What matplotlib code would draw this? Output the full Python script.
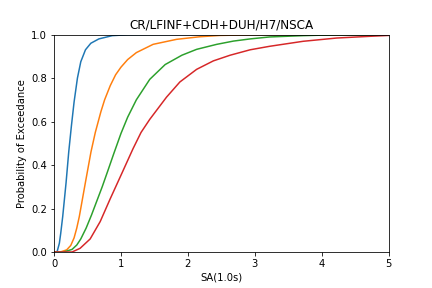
import numpy as np
import matplotlib
matplotlib.use("Agg")
from matplotlib import pyplot as plt

# values
blue_x = [0.0, 0.045, 0.08, 0.10, 0.13, 0.18, 0.22, 0.26, 0.30, 0.35, 0.40, 0.47, 0.55, 0.67, 0.87, 1.1, 1.5, 5.0]
blue_y = [0.0, 0.0, 0.04, 0.085, 0.163, 0.318, 0.46, 0.58, 0.69, 0.80, 0.875, 0.93, 0.96, 0.98, 0.995, 0.999, 1.0, 1.0]

orange_x = [0.0, 0.095, 0.19, 0.25, 0.30, 0.34, 0.378, 0.468, 0.552, 0.617, 0.70, 0.756, 0.84, 0.92, 1.0, 1.1, 1.23, 1.48, 1.83, 2.18, 2.48, 3.0, 5.0]
orange_y = [0.0, 0.0, 0.01, 0.03, 0.065, 0.11, 0.163, 0.318, 0.46, 0.55, 0.645, 0.70, 0.765, 0.815, 0.85, 0.885, 0.917, 0.955, 0.978, 0.99, 0.996, 0.999, 1.0]

green_x = [0.0, 0.145, 0.27, 0.34, 0.40, 0.48, 0.56, 0.64, 0.72, 0.80, 0.89, 1.0, 1.1, 1.23, 1.43, 1.66, 1.91, 2.13, 2.43, 2.68, 2.93, 3.22, 3.72, 4.2, 5.0]
green_y = [0.0, 0.0, 0.012, 0.032, 0.06, 0.11, 0.17, 0.235, 0.30, 0.37, 0.45, 0.545, 0.62, 0.70, 0.794, 0.862, 0.905, 0.932, 0.955, 0.97, 0.98, 0.989, 0.995, 0.999, 1.0]

red_x = [0.0, 0.27, 0.39, 0.54, 0.69, 0.84, 1.015, 1.18, 1.30, 1.43, 1.68, 1.88, 2.13, 2.38, 2.63, 2.93, 3.22, 3.72, 4.22, 4.72, 5.0]
red_y = [0.0, 0.0, 0.017, 0.06, 0.14, 0.245, 0.363, 0.475, 0.55, 0.61, 0.712, 0.782, 0.84, 0.879, 0.905, 0.93, 0.946, 0.969, 0.984, 0.992, 0.996]

fig = plt.figure(figsize=(6, 4), dpi=72)
plt.subplots_adjust(left=0.125, right=0.9, bottom=0.125, top=0.88)

plt.plot(blue_x, blue_y)
plt.plot(orange_x, orange_y)
plt.plot(green_x, green_y)
plt.plot(red_x, red_y)

plt.xlim(0, 5)
plt.ylim(0, 1)
plt.title("CR/LFINF+CDH+DUH/H7/NSCA")
plt.xlabel("SA(1.0s)")
plt.ylabel("Probability of Exceedance")
plt.savefig("out.png", dpi=72)
